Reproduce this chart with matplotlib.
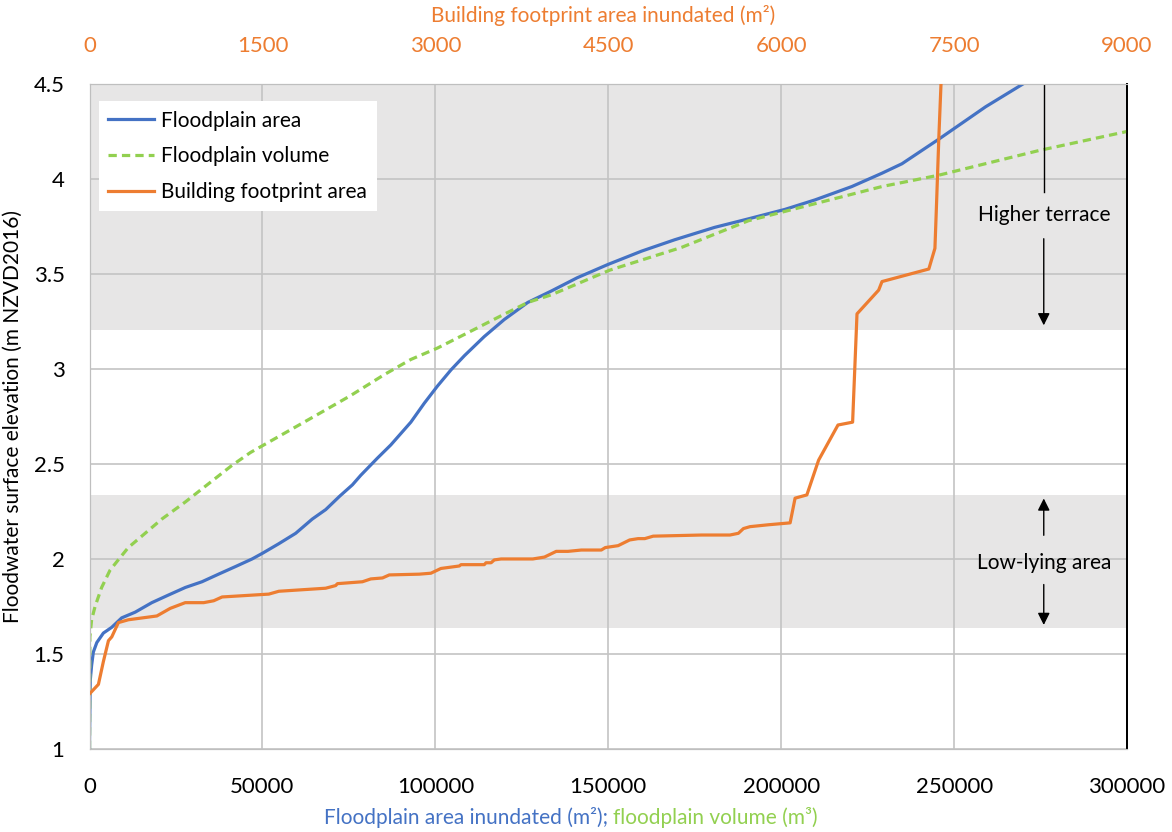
import matplotlib.pyplot as plt

plt.rcParams['font.family'] = ['Lato', 'DejaVu Sans']

# --- Floodplain area inundated (m2) vs elevation ---
area_x = [0, 0, 200, 600, 1100, 2100, 4000, 6400, 9300, 13200, 18000, 22800, 27700,
          32500, 37300, 42200, 47000, 50000, 54700, 59600, 64400, 68300, 72300, 76000,
          78400, 83200, 87100, 92900, 96800, 100600, 104500, 108400, 114100, 119900,
          126700, 133500, 141000, 149900, 159600, 169200, 180700, 190500, 201100,
          209800, 220400, 229100, 234900, 245600, 259100, 271700]
area_y = [1.0, 1.05, 1.36, 1.44, 1.51, 1.56, 1.61, 1.64, 1.69, 1.72, 1.77, 1.81, 1.85,
          1.88, 1.92, 1.96, 2.00, 2.03, 2.08, 2.135, 2.21, 2.26, 2.33, 2.39,
          2.44, 2.53, 2.60, 2.72, 2.82, 2.91, 2.995, 3.07, 3.17, 3.26,
          3.35, 3.41, 3.48, 3.55, 3.62, 3.68, 3.745, 3.79, 3.84,
          3.89, 3.96, 4.03, 4.08, 4.21, 4.38, 4.52]

# --- Floodplain volume (m3) vs elevation ---
vol_x = [0, 100, 600, 1600, 3500, 5900, 8300, 11200, 15100, 20900, 27700, 35400, 41000,
         46500, 56200, 65900, 75500, 85200, 92900, 100600, 109300, 119000, 126700,
         133500, 150400, 171200, 190500, 209800, 229100, 245600, 274600, 300000]
vol_y = [1.0, 1.59, 1.68, 1.75, 1.85, 1.94, 1.995, 2.06, 2.12, 2.21, 2.30, 2.41, 2.49,
         2.56, 2.66, 2.76, 2.86, 2.97, 3.05, 3.11, 3.19, 3.28, 3.35,
         3.39, 3.52, 3.64, 3.78, 3.87, 3.96, 4.02, 4.15, 4.25]

# --- Building footprint area inundated (m2, top axis) ---
bld_x = [0, 77, 120, 164, 193, 250, 337, 584, 700, 830, 990, 1077, 1150, 1555, 1642,
         2048, 2135, 2150, 2367, 2440, 2541, 2600, 2860, 2961, 3048, 3207, 3222, 3424,
         3439, 3483, 3511, 3570, 3845, 3946, 4048, 4150, 4266, 4439, 4474, 4585, 4685,
         4758, 4816, 4889, 5309, 5555, 5628, 5672, 5729, 5889, 6077, 6120, 6222, 6324,
         6492, 6619, 6657, 6845, 6874, 7280, 7333, 7347, 7367, 7387]
bld_y = [1.29, 1.34, 1.46, 1.57, 1.59, 1.665, 1.68, 1.70, 1.74, 1.77, 1.77, 1.78, 1.80,
         1.815, 1.83, 1.846, 1.86, 1.87, 1.88, 1.895, 1.90, 1.916, 1.92, 1.925, 1.95,
         1.963, 1.97, 1.97, 1.98, 1.98, 1.995, 2.0, 2.0, 2.01, 2.04, 2.04, 2.047, 2.047,
         2.06, 2.07, 2.10, 2.107, 2.107, 2.12, 2.126, 2.126, 2.135, 2.16, 2.17, 2.18,
         2.19, 2.32, 2.337, 2.52, 2.705, 2.72, 3.29, 3.415, 3.46, 3.526, 3.635, 3.87,
         4.22, 4.52]

bottom_ticks = [0, 50000, 100000, 150000, 200000, 250000, 300000]
top_ticks = [0, 1500, 3000, 4500, 6000, 7500, 9000]
y_ticks = [1, 1.5, 2, 2.5, 3, 3.5, 4, 4.5]

low_band = (1.637, 2.337)
high_band = (3.205, 4.5)

BLUE = '#4472C4'
GREEN = '#92D050'
ORANGE = '#ED7D31'
GRID = '#c4c4c4'
BAND = '#e7e6e6'

fig = plt.figure(figsize=(11.72, 8.32), dpi=100)
ax = fig.add_axes([0.0764, 0.0998, 0.8853, 0.7993])

ax.axhspan(*low_band, color=BAND, lw=0, zorder=0)
ax.axhspan(*high_band, color=BAND, lw=0, zorder=0)
ax.set_axisbelow(True)
ax.grid(True, color=GRID, lw=1.2)

l1, = ax.plot(area_x, area_y, color=BLUE, lw=2.3, label='Floodplain area', zorder=3)
l2, = ax.plot(vol_x, vol_y, color=GREEN, lw=2.3, ls=(0, (2.6, 1.6)),
              label='Floodplain volume', zorder=3)

ax.set_xlim(0, 300000)
ax.set_ylim(1, 4.5)
ax.set_xticks(bottom_ticks)
ax.set_xticklabels([str(t) for t in bottom_ticks])
ax.set_yticks(y_ticks)
ax.set_yticklabels([f'{t:g}' for t in y_ticks])
ax.tick_params(axis='both', length=0, labelsize=16)
ax.tick_params(axis='x', pad=20)
ax.tick_params(axis='y', pad=18)

for s in ['left', 'bottom', 'top']:
    ax.spines[s].set_color('#bfbfbf')
ax.spines['right'].set_color('black')
ax.spines['right'].set_linewidth(1.3)

ax2 = ax.twiny()
l3, = ax2.plot(bld_x, bld_y, color=ORANGE, lw=2.3, label='Building footprint area', zorder=4)
ax2.set_xlim(0, 9000)
ax2.set_xticks(top_ticks)
ax2.set_xticklabels([str(t) for t in top_ticks], color=ORANGE)
ax2.tick_params(axis='x', length=0, labelsize=16, pad=20)
for s in ['left', 'bottom', 'top']:
    ax2.spines[s].set_color('#bfbfbf')
ax2.spines['right'].set_color('black')
ax2.spines['right'].set_linewidth(1.3)

leg = ax2.legend(handles=[l1, l2, l3], loc='upper left', bbox_to_anchor=(0.009, 0.974),
                 fontsize=15, frameon=True, fancybox=False, edgecolor='none',
                 facecolor='white', framealpha=1, handlelength=2.2, handletextpad=0.35,
                 labelspacing=0.75, borderpad=0.45, borderaxespad=0)
leg.set_zorder(10)

# annotations on the right
ann_x = 275900
ax.plot([ann_x, ann_x], [4.5, 3.93], color='black', lw=1, zorder=5)
ax.annotate('', xy=(ann_x, 3.215), xytext=(ann_x, 3.70),
            arrowprops=dict(arrowstyle='-|>', color='black', lw=1, mutation_scale=18))
ax.text(ann_x, 3.81, 'Higher terrace', ha='center', va='center', fontsize=15)
ax.annotate('', xy=(ann_x, 2.333), xytext=(ann_x, 2.11),
            arrowprops=dict(arrowstyle='-|>', color='black', lw=1, mutation_scale=18))
ax.annotate('', xy=(ann_x, 1.638), xytext=(ann_x, 1.88),
            arrowprops=dict(arrowstyle='-|>', color='black', lw=1, mutation_scale=18))
ax.text(ann_x, 1.98, 'Low-lying area', ha='center', va='center', fontsize=15)

ax.set_ylabel('Floodwater surface elevation (m NZVD2016)', fontsize=15, labelpad=8)

fig.text(603.5 / 1172, 1 - 15 / 832, 'Building footprint area inundated (m²)',
         color=ORANGE, fontsize=15, ha='center', va='center')

# two-coloured bottom axis title
t1 = fig.text(0.3, 1 - 817 / 832, 'Floodplain area inundated (m²);', color=BLUE,
              fontsize=15, ha='left', va='center')
t2 = fig.text(0.5, 1 - 817 / 832, 'floodplain volume (m³)', color=GREEN,
              fontsize=15, ha='left', va='center')
fig.canvas.draw()
gap = 5
w1 = t1.get_window_extent().width
w2 = t2.get_window_extent().width
start = 571 - (w1 + gap + w2) / 2
t1.set_x(start / 1172)
t2.set_x((start + w1 + gap) / 1172)

fig.savefig('out.png', dpi=100)
